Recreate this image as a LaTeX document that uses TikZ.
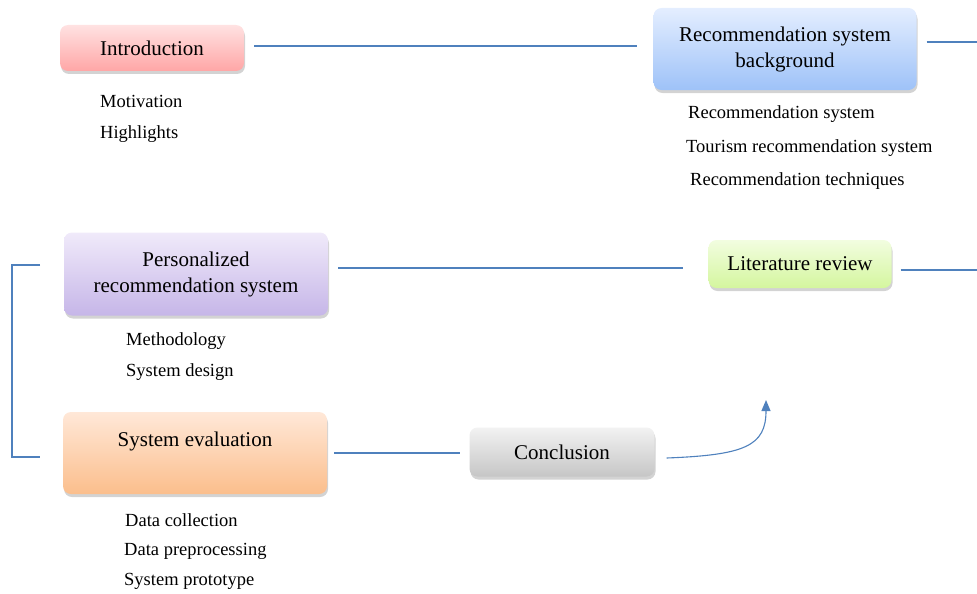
\documentclass[tikz,border=0pt]{standalone}
\usepackage{fontspec}
\setmainfont{Liberation Serif}
\newfontfamily\tms{Liberation Serif}
\usetikzlibrary{shadows,arrows.meta}
\definecolor{lineblue}{RGB}{79,129,189}
\tikzset{
  box/.style={rounded corners=8pt, inner sep=0pt, align=center,
    font=\tms\fontsize{21}{26}\selectfont,
    drop shadow={opacity=0.35, shadow xshift=1pt, shadow yshift=-3pt}},
  sub/.style={anchor=west, inner sep=0pt, font=\tms\fontsize{18.5}{20}\selectfont},
  conn/.style={draw=lineblue, line width=1.1pt},
}
\begin{document}
\begin{tikzpicture}[x=1pt,y=1pt]
\useasboundingbox (0,0) rectangle (977,-594);
% boxes
\node[box, top color={rgb,255:red,255;green,226;blue,226}, bottom color={rgb,255:red,255;green,166;blue,166},
  minimum width=184pt, minimum height=46pt] (intro) at (152,-48) {Introduction};
\node[box, top color={rgb,255:red,228;green,238;blue,255}, bottom color={rgb,255:red,158;green,194;blue,248},
  minimum width=263pt, minimum height=82pt] (rsb) at (785,-49) {Recommendation system\\background};
\node[box, top color={rgb,255:red,240;green,234;blue,250}, bottom color={rgb,255:red,198;green,182;blue,232},
  minimum width=264pt, minimum height=83pt] (pers) at (196,-274) {Personalized\\recommendation system};
\node[box, top color={rgb,255:red,242;green,253;blue,224}, bottom color={rgb,255:red,212;green,246;blue,158},
  minimum width=183pt, minimum height=48pt] (lit) at (800,-264) {Literature review};
\node[box, top color={rgb,255:red,255;green,232;blue,216}, bottom color={rgb,255:red,251;green,190;blue,140},
  minimum width=264pt, minimum height=82pt] (eval) at (195,-453) {};
\node[inner sep=0pt, font=\tms\fontsize{21}{26}\selectfont] (evaltext) at (195,-441) {System evaluation};
\node[box, top color={rgb,255:red,242;green,242;blue,242}, bottom color={rgb,255:red,198;green,198;blue,198},
  minimum width=185pt, minimum height=49pt] (concl) at (562,-452) {Conclusion};
% sub items
\node[sub] (mot) at (100,-101) {Motivation};
\node[sub] (hig) at (100,-134) {Highlights};
\node[sub] (rs1) at (688,-114) {Recommendation system};
\node[sub] (rs2) at (686,-148) {Tourism recommendation system};
\node[sub] (rs3) at (690,-181) {Recommendation techniques};
\node[sub] (met) at (126,-341) {Methodology};
\node[sub] (sdes) at (126,-372) {System design};
\node[sub] (dcol) at (125,-520) {Data collection};
\node[sub] (dpre) at (124,-551) {Data preprocessing};
\node[sub] (sprot) at (124,-581) {System prototype};
% free ends
\coordinate (rsbend) at (977,-42);
\coordinate (litend) at (977,-270);
\coordinate (brA) at (40,-265);
\coordinate (brB) at (40,-457);
\coordinate (arrtip) at (766,-400);
% connectors
\draw[conn, shorten <=10pt, shorten >=16pt] ([yshift=2pt]intro.east) -- ([yshift=2pt]intro.east -| rsb.west);
\draw[conn, shorten <=10pt] ([yshift=7pt]rsb.east) -- ([yshift=7pt]rsb.east -| rsbend);
\draw[conn, shorten <=10pt, shorten >=25pt] ([yshift=6pt]pers.east) -- ([yshift=6pt]pers.east -| lit.west);
\draw[conn, shorten <=9pt] ([yshift=-6pt]lit.east) -- ([yshift=-6pt]lit.east -| litend);
\draw[conn] (brA) -- ++(-28,0) |- (brB);
\draw[conn, shorten <=7pt, shorten >=9pt] (eval.east) -- (eval.east -| concl.west);
\draw[conn, -{Triangle[width=9pt,length=11pt]}] ([xshift=12pt,yshift=-6pt]concl.east)
  .. controls (745,-455) and (766,-446) .. (arrtip);
\end{tikzpicture}
\end{document}
